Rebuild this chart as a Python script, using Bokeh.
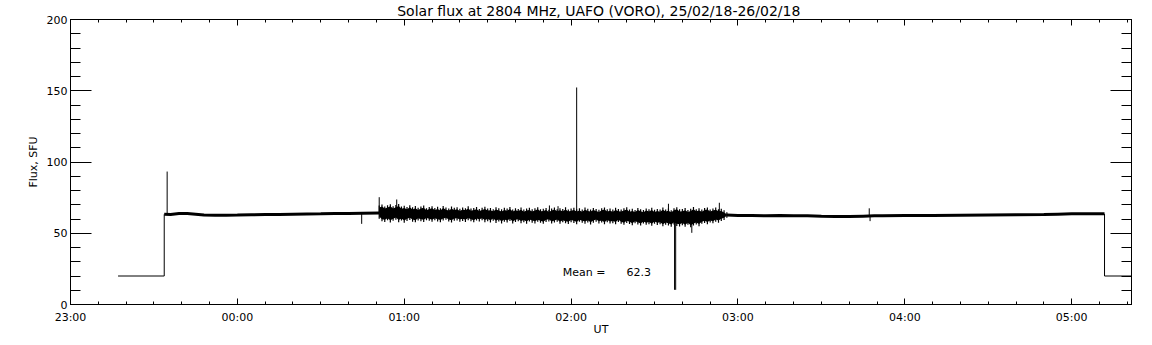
from bokeh.plotting import figure
from bokeh.models import LinearAxis, FixedTicker, Label, Range1d, CustomLabelingPolicy, Title
from bokeh.embed import file_html
from bokeh.resources import INLINE

# ---------------- data (time in minutes after 23:00 UT, flux in SFU) ----------------
title_text = "Solar flux at 2804 MHz, UAFO (VORO),  25/02/18-26/02/18"
x_tick_min = [0, 60, 120, 180, 240, 300, 360]
x_tick_labels = ["23:00", "00:00", "01:00", "02:00", "03:00", "04:00", "05:00"]
y_ticks = [0, 50, 100, 150, 200]
mean_flux = 62.3

# calibration (reference-load) level before and after the observation
lead_t = [17.1, 33.7, 33.7]
lead_v = [20.0, 20.0, 63.3]
tail_t = [371.8, 371.8, 383.0]
tail_v = [63.6, 20.0, 20.0]

# quiet parts of the record
quiet1_t = [33.7, 36, 39, 42, 45, 48, 52, 56, 60, 65, 70, 75, 80, 85, 90, 95, 100, 105, 111]
quiet1_v = [63.3, 63.2, 63.8, 63.9, 63.4, 62.8, 62.6, 62.7, 62.8, 63.0, 63.1, 63.2, 63.4,
            63.5, 63.6, 63.8, 63.9, 64.1, 64.2]
quiet2_t = [236, 240, 245, 250, 255, 260, 265, 270, 275, 280, 285, 289, 292, 300, 310, 320,
            330, 340, 350, 355, 360, 365, 371.8]
quiet2_v = [62.8, 62.5, 62.4, 62.3, 62.4, 62.2, 62.3, 62.0, 61.8, 61.7, 62.0, 62.2, 62.2,
            62.5, 62.4, 62.6, 62.8, 63.0, 63.2, 63.4, 63.6, 63.6, 63.6]

# noisy interval 00:51 - 02:56: per-minute upper / lower envelope
noise_t = list(range(111, 237))
noise_hi = [69.5, 70.2, 68.8, 69.6, 70.4, 68.9, 69.8, 70.6, 68.7, 69.3,
            68.4, 69.7, 68.2, 69.1, 67.9, 68.8, 69.4, 67.6, 68.5, 69.0,
            67.8, 68.6, 67.5, 69.2, 68.0, 67.4, 68.7, 67.9, 68.3, 67.2,
            68.1, 67.6, 68.9, 67.3, 67.8, 68.4, 67.1, 67.9, 68.6, 67.4,
            67.7, 66.9, 68.2, 67.5, 66.8, 67.9, 67.3, 68.5, 66.7, 67.6,
            67.1, 68.0, 66.6, 67.4, 67.9, 66.8, 67.5, 68.3, 66.9, 67.2,
            67.8, 66.5, 67.4, 68.1, 66.9, 67.6, 67.0, 68.2, 66.7, 67.3,
            67.9, 66.8, 67.5, 66.6, 68.0, 67.2, 66.7, 67.8, 67.1, 66.5,
            67.6, 68.1, 66.8, 67.3, 66.6, 67.9, 67.0, 66.7, 67.5, 68.2,
            66.6, 67.2, 66.4, 67.8, 66.9, 66.3, 67.4, 66.8, 67.9, 66.5,
            67.1, 66.6, 68.0, 66.7, 67.3, 66.2, 67.6, 68.3, 66.8, 67.0,
            67.7, 66.4, 67.2, 68.4, 66.9, 67.5, 66.6, 67.8, 68.1, 66.7,
            67.4, 68.0, 66.9, 67.2, 66.1, 64.8]
noise_lo = [60.2, 58.4, 57.9, 59.1, 57.6, 58.7, 59.5, 57.8, 58.9, 57.4,
            58.6, 59.3, 58.1, 57.7, 59.0, 58.4, 57.9, 59.2, 58.7, 58.0,
            59.1, 58.3, 57.8, 58.9, 59.4, 58.2, 57.6, 58.8, 59.0, 58.1,
            58.6, 57.9, 59.2, 58.4, 57.7, 58.9, 58.3, 59.1, 57.8, 58.5,
            57.6, 58.8, 57.2, 58.3, 56.9, 58.1, 57.5, 58.6, 56.8, 57.9,
            58.4, 57.1, 57.8, 56.7, 58.2, 57.4, 56.9, 58.0, 57.3, 56.6,
            57.9, 58.3, 56.8, 57.5, 58.1, 56.6, 57.7, 57.0, 56.5, 57.8,
            57.2, 56.4, 58.0, 57.3, 56.7, 57.6, 56.2, 57.4, 58.1, 56.9,
            57.5, 56.3, 57.8, 56.8, 57.1, 56.4, 57.9, 56.6, 55.9, 57.2,
            56.5, 55.6, 57.0, 56.2, 55.4, 56.8, 55.9, 56.4, 55.2, 56.7,
            55.8, 56.3, 54.9, 56.0, 55.5, 54.6, 56.2, 55.1, 54.8, 55.7,
            54.5, 55.9, 54.2, 55.4, 56.1, 55.0, 56.6, 57.2, 56.4, 57.5,
            57.0, 58.1, 57.4, 58.6, 59.3, 60.8]

# isolated spikes: time, local base level, tip value
spike_t = [34.75, 104.7, 111.0, 117.3, 172.2, 175.3, 182.0, 215.0, 217.2, 217.6, 223.4, 233.3, 287.2, 287.5]
spike_base = [63.3, 63.9, 64.2, 64.0, 63.6, 63.6, 63.6, 63.0, 62.5, 62.5, 62.5, 63.0, 62.2, 62.2]
spike_tip = [93.3, 56.6, 75.3, 73.7, 69.5, 69.0, 152.3, 70.7, 10.3, 10.3, 50.3, 71.4, 67.5, 58.5]

# ---------------- figure ----------------
FONT = "DejaVu Sans"

p = figure(frame_width=1061, frame_height=285,
           x_range=Range1d(0, 381.5), y_range=Range1d(0, 200),
           x_axis_type=None, y_axis_type=None,
           output_backend="svg", toolbar_location=None,
           min_border_left=70, min_border_right=19, min_border_top=19, min_border_bottom=39,
           background_fill_color="white", border_fill_color="white")
p.outline_line_color = "black"
p.xgrid.visible = False
p.ygrid.visible = False

x_minor = list(range(0, 390, 10))
y_minor = list(range(0, 210, 10))

hide_all = CustomLabelingPolicy(code="""
try { for (const i of [...indices]) indices.unset(i) } catch (e) {}
return indices
""")


def style_axis(ax, major_in, minor_in, show_labels):
    ax.axis_line_color = "black"
    ax.axis_line_width = 1
    ax.major_tick_line_color = "black"
    ax.minor_tick_line_color = "black"
    ax.major_tick_in = major_in
    ax.major_tick_out = 0
    ax.minor_tick_in = minor_in
    ax.minor_tick_out = 0
    ax.major_label_text_font = FONT
    ax.major_label_text_color = "black"
    ax.major_label_text_font_size = "11px" if show_labels else "0px"
    if not show_labels:
        ax.major_label_policy = hide_all
    ax.axis_label_text_font = FONT
    ax.axis_label_text_font_size = "11px"
    ax.axis_label_text_font_style = "normal"
    ax.axis_label_text_color = "black"


xb = LinearAxis(ticker=FixedTicker(ticks=x_tick_min, minor_ticks=x_minor),
                major_label_overrides={t: s for t, s in zip(x_tick_min, x_tick_labels)},
                axis_label="UT")
style_axis(xb, 6, 3, True)
xb.major_label_standoff = 6
xb.axis_label_standoff = -4
p.add_layout(xb, "below")

xt = LinearAxis(ticker=FixedTicker(ticks=x_tick_min, minor_ticks=x_minor))
style_axis(xt, 6, 3, False)
xt.major_label_standoff = 0
p.add_layout(xt, "above")

yl = LinearAxis(ticker=FixedTicker(ticks=y_ticks, minor_ticks=y_minor),
                major_label_overrides={t: str(t) for t in y_ticks},
                axis_label="Flux, SFU")
style_axis(yl, 21, 10, True)
yl.major_label_standoff = 3
yl.axis_label_standoff = 4
p.add_layout(yl, "left")

yr = LinearAxis(ticker=FixedTicker(ticks=y_ticks, minor_ticks=y_minor))
style_axis(yr, 21, 10, False)
yr.major_label_standoff = 0
p.add_layout(yr, "right")

p.add_layout(Title(text=title_text, align="center", text_font=FONT, text_font_size="14px",
                   text_font_style="normal", text_color="black", standoff=1), "above")

# ---------------- data glyphs ----------------
p.line(lead_t, lead_v, line_color="black", line_width=1)
p.line(tail_t, tail_v, line_color="black", line_width=1)
p.line(quiet1_t, quiet1_v, line_color="black", line_width=3)
p.line(quiet2_t, quiet2_v, line_color="black", line_width=3)

# noisy interval: solid core plus per-minute excursions
core_lo = [l + 1.5 for l in noise_lo]
core_hi = [h - 1.5 for h in noise_hi]
p.varea(x=noise_t, y1=core_lo, y2=core_hi, fill_color="black")
p.segment(x0=noise_t, y0=noise_lo, x1=noise_t, y1=noise_hi, line_color="black", line_width=1.2)

p.segment(x0=spike_t, y0=spike_base, x1=spike_t, y1=spike_tip, line_color="black", line_width=1)

# ---------------- texts ----------------
p.add_layout(Label(x=177, y=22.5, text="Mean =" + "\u00a0" * 6 + "%.1f" % mean_flux,
                   text_font=FONT, text_font_size="11px", text_color="black",
                   text_baseline="middle", text_align="left"))

open("out.html", "w").write(file_html(p, INLINE))
